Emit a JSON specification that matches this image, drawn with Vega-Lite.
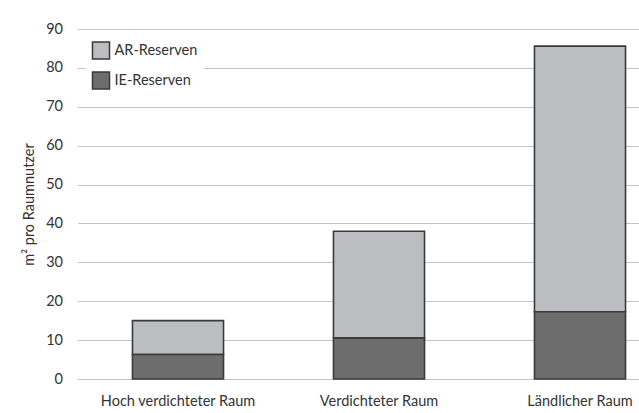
{
  "$schema": "https://vega.github.io/schema/vega-lite/v6.json",
  "width": 603,
  "height": 350,
  "autosize": {"type": "none"},
  "padding": {"left": 77.5, "top": 29, "right": 0, "bottom": 34},
  "background": "white",
  "data": {
    "values": [
      {"raum": "Hoch verdichteter Raum", "typ": "AR-Reserven", "wert": 8.7},
      {"raum": "Hoch verdichteter Raum", "typ": "IE-Reserven", "wert": 6.3},
      {"raum": "Verdichteter Raum", "typ": "AR-Reserven", "wert": 27.5},
      {"raum": "Verdichteter Raum", "typ": "IE-Reserven", "wert": 10.5},
      {"raum": "Ländlicher Raum", "typ": "AR-Reserven", "wert": 68.3},
      {"raum": "Ländlicher Raum", "typ": "IE-Reserven", "wert": 17.3}
    ]
  },
  "mark": {"type": "bar", "stroke": "#3a3a3a", "strokeWidth": 1.6},
  "encoding": {
    "x": {
      "field": "raum",
      "type": "nominal",
      "sort": ["Hoch verdichteter Raum", "Verdichteter Raum", "Ländlicher Raum"],
      "scale": {"paddingInner": 0.547, "paddingOuter": 0.2735},
      "axis": {"title": null, "labelAngle": 0, "domain": false, "ticks": false, "labelPadding": 15, "labelFontSize": 14.5, "labelColor": "#333", "labelFont": "Lato"}
    },
    "y": {
      "field": "wert",
      "type": "quantitative",
      "stack": "zero",
      "scale": {"domain": [0, 90], "nice": false},
      "axis": {
        "title": "m² pro Raumnutzer",
        "values": [0, 10, 20, 30, 40, 50, 60, 70, 80, 90],
        "domain": false, "ticks": false,
        "labelPadding": 15, "labelFontSize": 14.5, "labelColor": "#333", "labelFont": "Lato",
        "titleFont": "Lato", "titleFontSize": 14.5, "titleFontWeight": "normal", "titleColor": "#333", "titlePadding": 9,
        "gridColor": "#c4c4c4", "gridWidth": 1.2
      }
    },
    "color": {
      "field": "typ",
      "type": "nominal",
      "sort": ["AR-Reserven", "IE-Reserven"],
      "scale": {"domain": ["AR-Reserven", "IE-Reserven"], "range": ["#bcbdc1", "#6d6d6d"]},
      "legend": {
        "title": null,
        "orient": "none",
        "legendX": 8,
        "legendY": 6,
        "fillColor": "white",
        "padding": 6,
        "symbolType": "square",
        "symbolSize": 290,
        "symbolStrokeColor": "#3a3a3a",
        "symbolStrokeWidth": 1.5,
        "symbolOpacity": 1,
        "labelFontSize": 14.5,
        "labelFont": "Lato",
        "labelColor": "#333",
        "labelOffset": 4,
        "rowPadding": 5
      }
    },
    "order": {"field": "typ", "sort": "descending"}
  },
  "config": {"view": {"stroke": null}}
}
